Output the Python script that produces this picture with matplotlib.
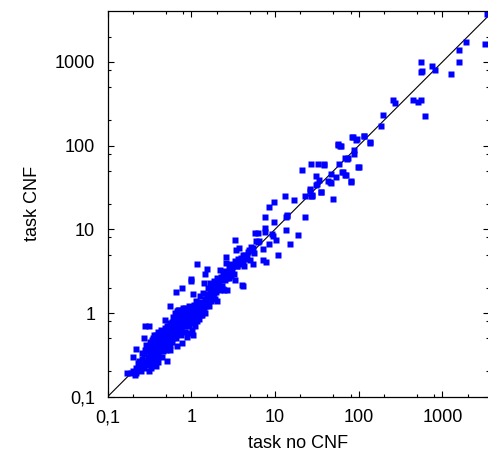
import matplotlib
matplotlib.use("Agg")
import matplotlib.pyplot as plt
from matplotlib.ticker import LogLocator, FuncFormatter, NullFormatter

plt.rcParams['font.family'] = ['Liberation Sans', 'DejaVu Sans']
plt.rcParams['font.size'] = 13

# runtimes (no CNF, CNF)
dense_x = [0.17, 0.19, 0.2, 0.21, 0.22, 0.22, 0.2, 0.22, 0.23, 0.24, 0.25, 0.25, 0.26, 0.27,
           0.27, 0.27, 0.28, 0.28, 0.29, 0.29, 0.3, 0.3, 0.31, 0.31, 0.32, 0.32, 0.33, 0.33,
           0.34, 0.34, 0.35, 0.35, 0.36, 0.36, 0.37, 0.37, 0.38, 0.38, 0.39, 0.4, 0.4, 0.4, 0.4,
           0.42, 0.42, 0.43, 0.44, 0.45, 0.45, 0.46, 0.47, 0.48, 0.48, 0.49, 0.5, 0.5, 0.51,
           0.52, 0.52, 0.53, 0.54, 0.55, 0.55, 0.56, 0.56, 0.57, 0.58, 0.59, 0.6, 0.6, 0.61,
           0.62, 0.63, 0.64, 0.65, 0.66, 0.66, 0.67, 0.68, 0.68, 0.69, 0.7, 0.7, 0.72, 0.73,
           0.74, 0.75, 0.76, 0.77, 0.77, 0.78, 0.79, 0.8, 0.82, 0.83, 0.85, 0.86, 0.88, 0.88,
           0.9, 0.92, 0.92, 0.94, 0.95, 0.97, 0.98, 0.98, 1.0, 1.0,
           1.02, 1.04, 1.05, 1.05, 1.06, 1.08, 1.1, 1.1, 1.12, 1.13, 1.15, 1.16, 1.17, 1.18,
           1.2, 1.22, 1.25, 1.27, 1.28, 1.3, 1.32, 1.35, 1.38, 1.4, 1.42, 1.44, 1.45, 1.47,
           1.5, 1.52, 1.55, 1.55, 1.58, 1.6, 1.62, 1.65, 1.67, 1.7, 1.75, 1.8, 1.8, 1.85, 1.9,
           1.9, 1.95, 2.0, 2.0, 2.05, 2.1, 2.15, 2.2, 2.2, 2.25, 2.3, 2.4, 2.4, 2.45, 2.5, 2.55,
           2.6, 2.6, 2.64, 2.7, 2.8, 2.8, 2.9, 2.95, 3.0]
dense_y = [0.19, 0.19, 0.2, 0.18, 0.19, 0.22, 0.3, 0.37, 0.25, 0.21, 0.24, 0.2, 0.28, 0.22,
           0.32, 0.5, 0.7, 0.36, 0.26, 0.42, 0.3, 0.24, 0.2, 0.69, 0.34, 0.27, 0.4, 0.22,
           0.3, 0.47, 0.25, 0.36, 0.55, 0.42, 0.32, 0.28, 0.23, 0.45, 0.38, 0.6, 0.5, 0.33, 0.26,
           0.42, 0.56, 0.36, 0.62, 0.47, 0.3, 0.52, 0.4, 0.66, 0.58, 0.83, 0.45, 0.36, 0.27,
           0.62, 0.5, 0.7, 0.55, 0.42, 0.36, 0.65, 1.22, 0.48, 0.78, 0.58, 0.9, 0.7, 0.5,
           0.62, 0.8, 1.0, 0.56, 1.8, 0.7, 0.88, 0.4, 0.62, 1.1, 0.75, 0.95, 0.66, 0.85,
           1.05, 0.55, 0.78, 2.0, 0.44, 0.95, 1.15, 0.7, 0.85, 1.0, 0.6, 0.9, 1.1, 0.52,
           0.78, 0.95, 0.58, 1.2, 0.7, 0.88, 2.55, 2.4, 1.05, 0.8,
           0.62, 1.7, 0.55, 0.75, 0.9, 1.25, 0.87, 1.05, 0.7, 1.4, 0.95, 3.8, 1.15, 0.8,
           1.3, 1.0, 0.85, 1.6, 1.15, 0.95, 1.35, 1.1, 1.75, 1.25, 2.3, 2.9, 1.0, 1.45,
           1.2, 1.7, 3.4, 1.35, 2.0, 1.55, 1.2, 1.75, 2.3, 1.4, 2.1, 1.6, 1.9, 2.4, 1.45,
           2.2, 1.8, 2.6, 1.4, 2.0, 2.5, 2.3, 1.9, 3.3, 2.7, 2.1, 2.9, 1.94, 1.9, 3.2, 2.5,
           4.0, 4.7, 1.9, 3.0, 3.5, 2.6, 3.1, 3.8, 2.8]

core_x = [0.3, 0.31, 0.32, 0.33, 0.34, 0.35, 0.36, 0.37, 0.38, 0.39, 0.41, 0.42, 0.43, 0.44,
          0.45, 0.46, 0.47, 0.48, 0.49, 0.5, 0.51, 0.52, 0.53, 0.54, 0.56, 0.57, 0.58, 0.59,
          0.6, 0.62, 0.63, 0.64, 0.65, 0.66, 0.67, 0.68, 0.7, 0.71, 0.72, 0.73, 0.75, 0.76,
          0.78, 0.8, 0.81, 0.83, 0.84, 0.86, 0.87, 0.9, 0.91, 0.93, 0.96, 0.99, 1.03, 1.07,
          1.09, 1.12, 1.14, 1.19, 1.23, 1.26, 1.3, 1.34, 1.37, 1.42, 1.48, 1.53, 1.57, 1.63,
          1.7, 1.75, 1.85, 1.95, 2.1, 2.3, 2.5, 2.7, 3.0, 3.4, 3.8, 4.4, 0.24, 0.26, 0.28]
core_y = [0.35, 0.4, 0.45, 0.3, 0.38, 0.5, 0.3, 0.45, 0.55, 0.3, 0.45, 0.35, 0.5, 0.4,
          0.55, 0.35, 0.6, 0.45, 0.38, 0.55, 0.7, 0.42, 0.58, 0.48, 0.75, 0.55, 0.45, 0.68,
          0.52, 0.85, 0.6, 0.72, 0.9, 0.5, 1.05, 0.78, 0.6, 0.9, 1.1, 0.7, 0.95, 0.62,
          0.8, 1.05, 0.9, 0.7, 1.15, 0.8, 1.0, 0.9, 1.1, 0.75, 1.0, 0.9, 1.1, 0.8,
          1.0, 1.2, 0.85, 1.05, 1.2, 1.0, 1.2, 0.95, 1.3, 1.1, 1.3, 1.5, 1.25, 1.45,
          1.65, 1.5, 1.75, 2.1, 2.2, 2.5, 2.7, 2.6, 3.2, 3.9, 4.3, 5.0, 0.27, 0.33, 0.25]

mid_x = [3.1, 3.2, 3.3, 3.3, 3.35, 3.4, 3.5, 3.6, 3.7, 3.8, 3.9, 4.0, 4.1, 4.2, 4.3, 4.5,
         4.6, 4.8, 4.9, 5.0, 5.2, 5.4, 5.4, 5.6, 5.8, 6.0, 6.2, 6.4, 7.1, 7.6, 7.7, 7.9,
         7.2, 8.4, 7.7, 8.4, 9.1, 9.5, 9.7, 9.7, 10.2, 10.8, 4.1, 6.2, 3.55, 2.9, 1.8]
mid_y = [3.4, 2.9, 7.5, 2.45, 4.2, 5.7, 3.6, 4.4, 6.0, 3.8, 4.6, 2.14, 4.0, 5.0, 3.6, 4.4,
         4.8, 5.4, 5.6, 4.3, 6.2, 6.0, 3.8, 5.2, 9.0, 7.2, 9.0, 7.3, 4.3, 10.5, 9.3, 4.1,
         5.8, 6.7, 14, 18.7, 8.8, 8.3, 12.1, 21.5, 7.4, 4.9, 2.1, 7.0, 3.6, 3.1, 1.6]

high_x = [3450, 3240, 1900, 1590, 1590, 1260, 755, 810, 550, 575, 560, 255, 270, 445, 510,
          550, 615, 195, 183, 116, 135, 85, 95, 57, 61, 87, 87, 69, 74, 100, 58, 63, 70, 80,
          47, 47, 53, 49, 27, 21, 33, 38, 39, 31, 32, 34, 35, 26, 28, 27, 22.6, 43, 13, 17,
          13.5, 14, 22.6, 13.4, 18.7, 15, 31, 26.2, 28, 35, 64.5, 69, 80.5, 98.6, 115, 137,
          57, 60, 84, 94, 73, 46, 13.8]
high_y = [3700, 1620, 1740, 1400, 1000, 710, 905, 810, 1000, 780, 760, 355, 324, 355, 336,
          355, 224, 235, 170, 132, 110, 126, 120, 104, 98, 89, 79, 71, 71, 55, 61, 49, 45, 37,
          46, 36, 42, 23, 61, 51, 60, 61, 58, 43, 35, 39, 28, 29, 26, 25, 25, 38, 25, 22.6,
          14.1, 15, 14.1, 9.9, 8.5, 6.6, 34, 30.4, 25, 27.6, 48, 44, 37.5, 55, 131, 109,
          103, 98, 127, 118, 69, 36.5, 14.5]

tick_vals = [0.1, 1, 10, 100, 1000]
tick_text = ['0,1', '1', '10', '100', '1000']

fig = plt.figure(figsize=(4.88, 4.57), dpi=100)
ax = fig.add_axes([0.2206, 0.132, 0.7814, 0.8439])

ax.plot([0.1, 1e4], [0.1, 1e4], color='black', lw=0.8, zorder=1)
for xs, ys in [(dense_x, dense_y), (core_x, core_y), (mid_x, mid_y), (high_x, high_y)]:
    ax.plot(xs, ys, ls='none', marker='s', ms=4.9, mec='none', mfc='#0000ff', zorder=2)

ax.set_xscale('log')
ax.set_yscale('log')
ax.set_xlim(0.1, 3610)
ax.set_ylim(0.1, 4065)

lab = dict(zip(tick_vals, tick_text))
for axis in (ax.xaxis, ax.yaxis):
    axis.set_major_locator(LogLocator(base=10, numticks=10))
    axis.set_minor_locator(LogLocator(base=10, subs=[2, 5, 8], numticks=10))
    axis.set_major_formatter(FuncFormatter(lambda v, p: lab.get(round(v, 3), '')))
    axis.set_minor_formatter(NullFormatter())

ax.tick_params(which='both', direction='in', top=True, right=True, width=0.8)
ax.tick_params(which='major', length=4, pad=9)
ax.tick_params(which='minor', length=2)
for s in ax.spines.values():
    s.set_linewidth(0.9)

ax.set_xlabel('task no CNF', labelpad=6)
ax.set_ylabel('task CNF', labelpad=10)

fig.savefig('out.png', dpi=100)
